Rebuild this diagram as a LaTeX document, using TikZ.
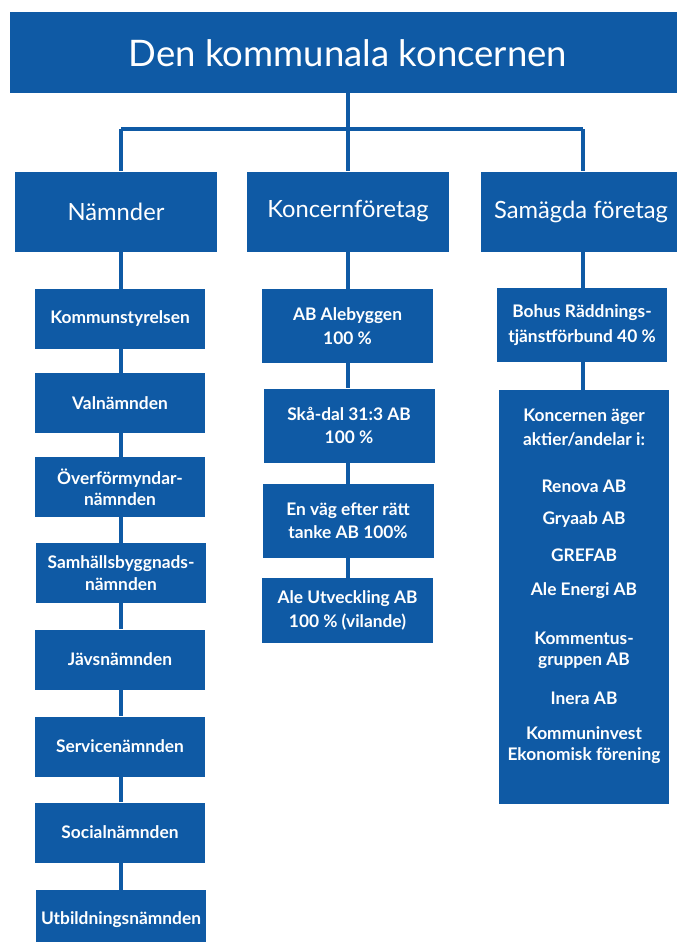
\documentclass[tikz,border=0pt]{standalone}
\usepackage{fontspec}
\setmainfont{Lato}
\definecolor{orgblue}{RGB}{15,90,165}
\tikzset{
  box/.style={fill=orgblue, text=white, inner sep=0pt, align=center},
  unit/.style={box, font=\bfseries\fontsize{13}{16}\selectfont},
  head/.style={box, font=\fontsize{17.8}{21}\selectfont},
  lst/.style={text=white, inner sep=0pt, font=\bfseries\fontsize{13}{15.5}\selectfont, align=center},
  conn/.style={draw=orgblue, line width=3pt},
}
\begin{document}
\begin{tikzpicture}[x=0.75pt,y=-0.75pt]
\useasboundingbox (0,0) rectangle (677,942);
\clip (0,0) rectangle (677,942);
% title
\node[box, minimum width=667*0.75pt, minimum height=81*0.75pt] (top) at (343.5,52.5) {};
\node[text=white, inner sep=0pt, font=\fontsize{27.4}{30}\selectfont] (toptext) at (348,53) {Den kommunala koncernen};
% level 2
\node[head, minimum width=202*0.75pt, minimum height=80*0.75pt] (nam) at (116,211.5) {Nämnder};
\node[head, minimum width=202*0.75pt, minimum height=80*0.75pt] (kon) at (348,211.5) {Koncernföretag};
\node[head, minimum width=200*0.75pt, minimum height=80*0.75pt] (sam) at (581,211.5) {Samägda företag};
% column 1
\tikzset{c1/.style={unit, minimum width=170*0.75pt, minimum height=60*0.75pt}}
\node[c1] (ks)  at (120,319) {Kommunstyrelsen};
\node[c1] (val) at (120,403) {Valnämnden};
\node[c1] (ovf) at (120,487) {Överförmyndar-\\nämnden};
\node[c1] (shb) at (121,573) {Samhällsbyggnads-\\nämnden};
\node[c1] (jav) at (120,659.5) {Jävsnämnden};
\node[c1] (ser) at (120,746.5) {Servicenämnden};
\node[c1] (soc) at (120,832.5) {Socialnämnden};
\node[c1] (utb) at (121,920) {Utbildningsnämnden};
% column 2
\tikzset{c2/.style={unit, font=\bfseries\fontsize{13}{17.5}\selectfont, minimum width=171*0.75pt, minimum height=74*0.75pt}}
\node[c2] (abab) at (347.5,326) {AB Alebyggen\\100 \%};
\node[c2] (ska)  at (349,425.5) {Skå-dal 31:3 AB\\100 \%};
\node[c2] (env)  at (348,521) {En väg efter rätt\\tanke AB 100\%};
\node[c2, minimum height=65*0.75pt] (ale) at (347.5,610.5) {Ale Utveckling AB\\100 \% (vilande)};
% column 3
\node[unit, font=\bfseries\fontsize{13}{18.5}\selectfont, minimum width=170*0.75pt, minimum height=74*0.75pt] (boh) at (582,325) {Bohus Räddnings-\\tjänstförbund 40 \%};
\node[box, minimum width=170*0.75pt, minimum height=414*0.75pt] (big) at (584,597) {};
\node[lst] (l1) at (584,417) {Koncernen äger};
\node[lst] (l2) at (584,439) {aktier/andelar i:};
\node[lst] (l3) at (584,486) {Renova AB};
\node[lst] (l4) at (584,520) {Gryaab AB};
\node[lst] (l5) at (584,555) {GREFAB};
\node[lst] (l6) at (584,591) {Ale Energi AB};
\node[lst] (l7) at (584,638) {Kommentus-};
\node[lst] (l8) at (584,661) {gruppen AB};
\node[lst] (l9) at (584,698) {Inera AB};
\node[lst] (l10) at (584,733) {Kommuninvest};
\node[lst] (l11) at (584,756) {Ekonomisk förening};
% connectors
\coordinate (busL) at (121,129);
\coordinate (busR) at (583,129);
\draw[conn] (top.south -| kon.north) -- (kon.north);
\draw[conn] (busL) -- (busR);
\draw[conn] (busL) -- (busL |- nam.north);
\draw[conn] (busR) -- (busR |- sam.north);
\foreach \a/\b in {nam/ks, ks/val, val/ovf, ovf/shb, shb/jav, jav/ser, ser/soc, soc/utb}{
  \draw[conn] (busL |- \a.south) -- (busL |- \b.north);
}
\coordinate (c2x) at (348,0);
\foreach \a/\b in {kon/abab, abab/ska, ska/env, env/ale}{
  \draw[conn] (c2x |- \a.south) -- (c2x |- \b.north);
}
\foreach \a/\b in {sam/boh, boh/big}{
  \draw[conn] (busR |- \a.south) -- (busR |- \b.north);
}
\end{tikzpicture}
\end{document}
